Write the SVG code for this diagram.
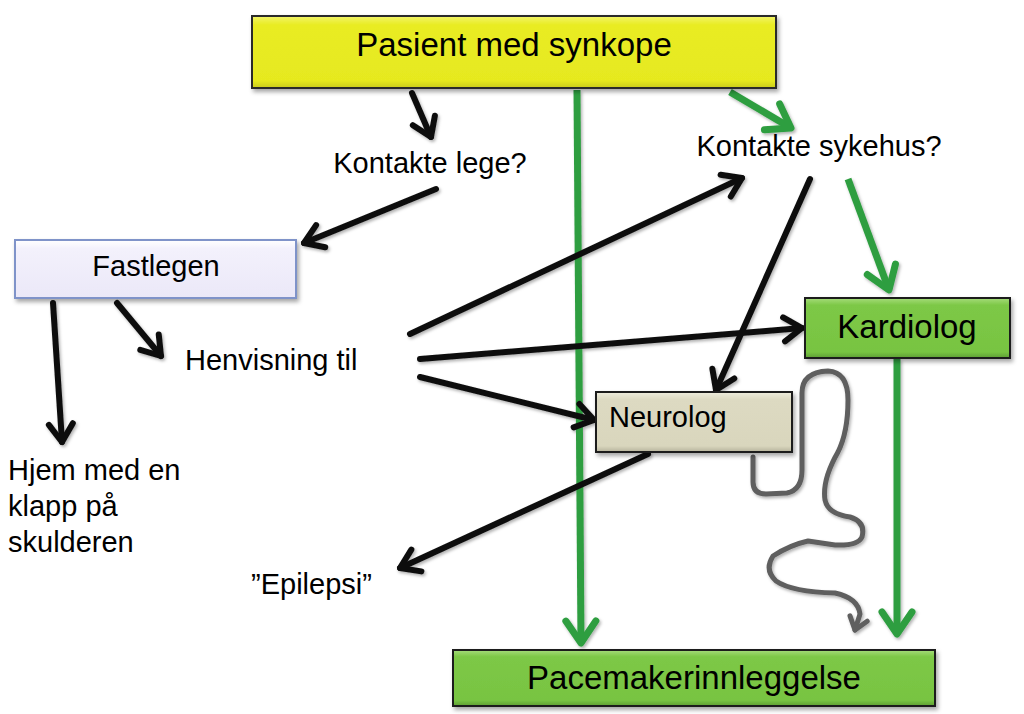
<svg xmlns="http://www.w3.org/2000/svg" width="1024" height="714" viewBox="0 0 1024 714">
<style>
text{font-family:"Liberation Sans",Arial,sans-serif;fill:#000}
.big{font-size:33px}
.sm{font-size:29px}
.box{stroke-width:2}
.blk{fill:none;stroke:#111;stroke-width:6;stroke-linecap:round}
.grn{fill:none;stroke:#2f9e41;stroke-width:7;stroke-linecap:butt}
.gry{fill:none;stroke:#5f5f5f;stroke-width:5;stroke-linecap:round;stroke-linejoin:round}
</style>
<defs>
<filter id="sh" x="-10%" y="-20%" width="130%" height="150%">
<feDropShadow dx="2" dy="3" stdDeviation="2" flood-color="#000" flood-opacity="0.35"/>
</filter>
<filter id="lsh" x="-20%" y="-20%" width="140%" height="140%">
<feDropShadow dx="1.5" dy="2" stdDeviation="1.5" flood-color="#000" flood-opacity="0.3"/>
</filter>
<linearGradient id="gy" x1="0" y1="0" x2="0" y2="1">
<stop offset="0" stop-color="#f2f46a"/><stop offset="0.12" stop-color="#e9ec24"/><stop offset="0.9" stop-color="#e6e91f"/><stop offset="1" stop-color="#c9cb1a"/>
</linearGradient>
<linearGradient id="gg" x1="0" y1="0" x2="0" y2="1">
<stop offset="0" stop-color="#a6dc7c"/><stop offset="0.12" stop-color="#7dc846"/><stop offset="0.9" stop-color="#78c442"/><stop offset="1" stop-color="#5e9e33"/>
</linearGradient>
<linearGradient id="gn" x1="0" y1="0" x2="0" y2="1">
<stop offset="0" stop-color="#eeecdd"/><stop offset="0.12" stop-color="#dddac2"/><stop offset="0.9" stop-color="#d9d6bd"/><stop offset="1" stop-color="#b5b29b"/>
</linearGradient>
<linearGradient id="gf" x1="0" y1="0" x2="0" y2="1">
<stop offset="0" stop-color="#ffffff"/><stop offset="0.15" stop-color="#f3f1fc"/><stop offset="1" stop-color="#ebe8f8"/>
</linearGradient>
<marker id="ab" markerUnits="userSpaceOnUse" viewBox="-26 -18 30 36" markerWidth="30" markerHeight="36" refX="0" refY="0" orient="auto">
<path d="M-18,-12 L0,0 L-18,12" fill="none" stroke="#111" stroke-width="6" stroke-linecap="round" stroke-linejoin="round"/>
</marker>
<marker id="ag" markerUnits="userSpaceOnUse" viewBox="-28 -20 32 40" markerWidth="32" markerHeight="40" refX="0" refY="0" orient="auto">
<path d="M-22,-15 L0,0 L-22,15" fill="none" stroke="#2f9e41" stroke-width="7" stroke-linecap="round" stroke-linejoin="round"/>
</marker>
<marker id="ay" markerUnits="userSpaceOnUse" viewBox="-20 -14 24 28" markerWidth="24" markerHeight="28" refX="0" refY="0" orient="auto">
<path d="M-12,-9 L0,0 L-12,9" fill="none" stroke="#5f5f5f" stroke-width="5" stroke-linecap="round" stroke-linejoin="round"/>
</marker>
</defs>
<rect width="1024" height="714" fill="#fff"/>

<g id="connectors" filter="url(#lsh)">
<line class="grn" x1="577" y1="90" x2="581" y2="643" marker-end="url(#ag)"/>
<line class="grn" x1="730" y1="92" x2="791" y2="128" marker-end="url(#ag)"/>
<line class="grn" x1="848" y1="179" x2="889" y2="290" marker-end="url(#ag)"/>
<line class="grn" x1="897" y1="359" x2="897" y2="634" marker-end="url(#ag)"/>
<line class="blk" x1="412" y1="93" x2="431" y2="137" marker-end="url(#ab)"/>
<line class="blk" x1="436" y1="189" x2="304" y2="243" marker-end="url(#ab)"/>
<line class="blk" x1="53" y1="303" x2="62" y2="442" marker-end="url(#ab)"/>
<line class="blk" x1="117" y1="303" x2="161" y2="356" marker-end="url(#ab)"/>
<line class="blk" x1="410" y1="334" x2="742" y2="178" marker-end="url(#ab)"/>
<line class="blk" x1="420" y1="359" x2="802" y2="328" marker-end="url(#ab)"/>
<line class="blk" x1="420" y1="377" x2="594" y2="420" marker-end="url(#ab)"/>
<line class="blk" x1="810" y1="179" x2="716" y2="390" marker-end="url(#ab)"/>
<line class="blk" x1="648" y1="454" x2="400" y2="568" marker-end="url(#ab)"/>
<path class="gry" d="M753,457 L753,482 Q753,494 766,494 L787,493 Q802,490 802,470 L802,393 Q802,372 828,371 Q848,372 848,400 Q848,432 838,452 Q822,480 825,500 Q828,514 850,517 Q866,522 862,537 Q858,546 835,545 L808,541 Q790,545 773,556 Q764,570 776,581 Q792,592 835,593 Q858,598 860,614 L855,630" marker-end="url(#ay)"/>
</g>

<g id="node-pasient">
<rect class="box" x="252" y="16" width="524" height="72" fill="url(#gy)" stroke="#2a2a2a" filter="url(#sh)"/>
<text class="big" x="514" y="56" text-anchor="middle">Pasient med synkope</text>
</g>
<g id="node-kontakte-lege">
<text class="sm" x="430" y="173" text-anchor="middle">Kontakte lege?</text>
</g>
<g id="node-kontakte-sykehus">
<text class="sm" x="819" y="156" text-anchor="middle">Kontakte sykehus?</text>
</g>
<g id="node-fastlegen">
<rect class="box" x="15" y="240" width="281" height="58" fill="url(#gf)" stroke="#7f93c9" filter="url(#sh)"/>
<text class="sm" x="156" y="276" text-anchor="middle">Fastlegen</text>
</g>
<g id="node-henvisning">
<text class="sm" x="185" y="370">Henvisning til</text>
</g>
<g id="node-hjem">
<text class="sm" x="8" y="480">Hjem med en</text>
<text class="sm" x="8" y="516">klapp på</text>
<text class="sm" x="8" y="552">skulderen</text>
</g>
<g id="node-kardiolog">
<rect class="box" x="805" y="298" width="205" height="60" fill="url(#gg)" stroke="#1e1e1e" filter="url(#sh)"/>
<text class="big" x="907" y="338" text-anchor="middle">Kardiolog</text>
</g>
<g id="node-neurolog">
<rect class="box" x="596" y="392" width="196" height="60" fill="url(#gn)" stroke="#1e1e1e" filter="url(#sh)"/>
<text class="sm" x="609" y="427">Neurolog</text>
</g>
<g id="node-epilepsi">
<text class="sm" x="251" y="594">”Epilepsi”</text>
</g>
<g id="node-pacemaker">
<rect class="box" x="453" y="650" width="482" height="56" fill="url(#gg)" stroke="#1e1e1e" filter="url(#sh)"/>
<text class="big" x="694" y="689" text-anchor="middle">Pacemakerinnleggelse</text>
</g>
</svg>
